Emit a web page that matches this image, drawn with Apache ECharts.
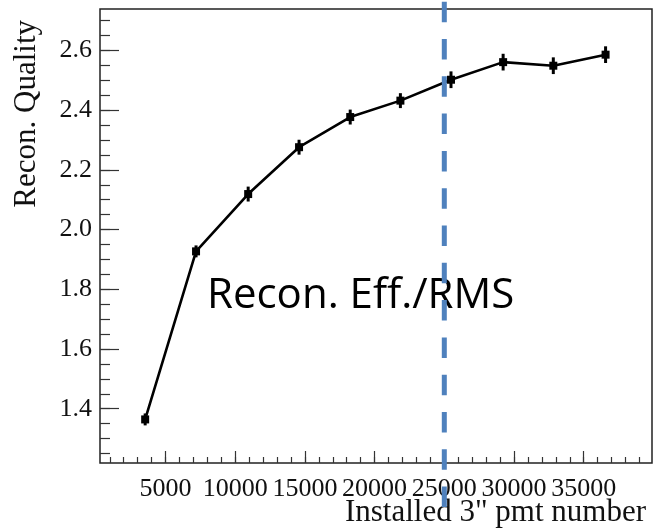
<!DOCTYPE html>
<html>
<head>
<meta charset="utf-8">
<script src="https://cdn.jsdelivr.net/npm/echarts@6/dist/echarts.min.js"></script>
<style>
html,body{margin:0;padding:0;background:#fff;}
#chart{width:654px;height:529px;}
</style>
</head>
<body>
<div id="chart"></div>
<script>
// ---- data ----
const pmtNumber = [3540, 7190, 10930, 14580, 18250, 21850, 25480, 29220, 32820, 36570];
const quality   = [1.364, 1.927, 2.119, 2.276, 2.377, 2.432, 2.502, 2.561, 2.549, 2.586];
const qualityErr = [0.020, 0.020, 0.025, 0.025, 0.025, 0.025, 0.028, 0.028, 0.028, 0.028];
const xTickLabels = [5000, 10000, 15000, 20000, 25000, 30000, 35000];
const yTickLabels = [1.4, 1.6, 1.8, 2.0, 2.2, 2.4, 2.6];
const thresholdPmt = 25000;
const xTitle = 'Installed 3" pmt number';
const yTitle = 'Recon. Quality';
const annotation = 'Recon. Eff./RMS';

const X_MIN = 300, X_MAX = 39900, Y_MIN = 1.218, Y_MAX = 2.739;
const xMinor = []; for (let v = 1000; v < X_MAX; v += 1000) xMinor.push(v);
const yMinor = []; for (let i = 25; i <= 270; i += 5) yMinor.push(i / 100);

const serif = '"Liberation Serif", "Times New Roman", serif';
const chart = echarts.init(document.getElementById('chart'));

const points = pmtNumber.map((x, i) => [x, quality[i], qualityErr[i]]);

chart.setOption({
  animation: false,
  backgroundColor: '#fff',
  grid: { left: 100, right: 2, top: 9, bottom: 66, show: true, borderColor: '#222', borderWidth: 1.5, backgroundColor: 'transparent' },
  xAxis: [
    {
      type: 'value', min: X_MIN, max: X_MAX, position: 'bottom',
      axisLine: { show: false }, splitLine: { show: false },
      axisTick: { show: true, inside: true, length: 12, customValues: xTickLabels, lineStyle: { color: '#333', width: 1.2 } },
      axisLabel: { show: true, customValues: xTickLabels, margin: 13, fontFamily: serif, fontSize: 26, color: '#111',
        formatter: v => String(v) }
    },
    {
      type: 'value', min: X_MIN, max: X_MAX, position: 'bottom',
      axisLine: { show: false }, splitLine: { show: false }, axisLabel: { show: false },
      axisTick: { show: true, inside: true, length: 6, customValues: xMinor, lineStyle: { color: '#333', width: 1.2 } }
    }
  ],
  yAxis: [
    {
      type: 'value', min: Y_MIN, max: Y_MAX, position: 'left',
      axisLine: { show: false }, splitLine: { show: false },
      axisTick: { show: true, inside: true, length: 19, customValues: yTickLabels, lineStyle: { color: '#333', width: 1.2 } },
      axisLabel: { show: true, customValues: yTickLabels, margin: 8, fontFamily: serif, fontSize: 26, color: '#111',
        formatter: v => Number(v).toFixed(1) }
    },
    {
      type: 'value', min: Y_MIN, max: Y_MAX, position: 'left',
      axisLine: { show: false }, splitLine: { show: false }, axisLabel: { show: false },
      axisTick: { show: true, inside: true, length: 10, customValues: yMinor, lineStyle: { color: '#333', width: 1.2 } }
    }
  ],
  series: [
    {
      type: 'line', xAxisIndex: 0, yAxisIndex: 0,
      data: points.map(p => [p[0], p[1]]),
      symbol: 'rect', symbolSize: 8,
      lineStyle: { color: '#000', width: 2.6 },
      itemStyle: { color: '#000' },
      z: 3
    },
    {
      type: 'custom', xAxisIndex: 0, yAxisIndex: 0,
      data: points,
      renderItem: function (params, api) {
        const x = api.value(0), y = api.value(1), e = api.value(2);
        const lo = api.coord([x, y - e]);
        const hi = api.coord([x, y + e]);
        return { type: 'line', shape: { x1: lo[0], y1: lo[1], x2: hi[0], y2: hi[1] },
          style: { stroke: '#000', lineWidth: 3 } };
      },
      z: 4
    }
  ],
  title: {
    text: xTitle, right: 3, bottom: -4,
    textStyle: { fontFamily: serif, fontSize: 31, fontWeight: 'normal', color: '#111' }
  }
});

const xPix = chart.convertToPixel({ xAxisIndex: 0 }, thresholdPmt);
chart.setOption({
  graphic: [
    {
      type: 'line', z: 100,
      shape: { x1: xPix, y1: 1.7, x2: xPix, y2: 507 },
      style: { stroke: '#4f81bd', lineWidth: 5, lineDash: [20.5, 16.8] }
    },
    {
      type: 'text', x: 27, y: 20, rotation: Math.PI / 2, z: 100,
      style: { text: yTitle, fontFamily: serif, fontSize: 31, fill: '#111', align: 'right', verticalAlign: 'middle' }
    },
    {
      type: 'text', x: 207, y: 296, z: 50,
      style: { text: annotation, fontFamily: '"Open Sans", "Noto Sans", sans-serif', fontSize: 42, fill: '#000', align: 'left', verticalAlign: 'middle' }
    }
  ]
});
</script>
</body>
</html>
